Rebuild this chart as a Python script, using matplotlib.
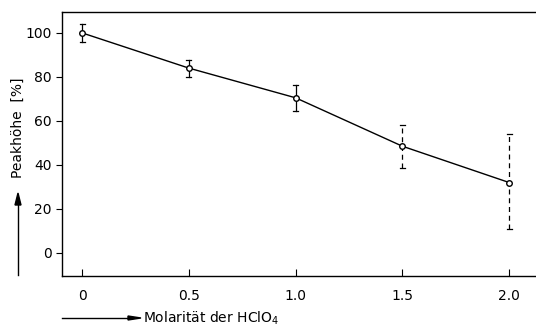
import matplotlib.pyplot as plt

molar = [0, 0.5, 1.0, 1.5, 2.0]
peak = [100, 84, 70.5, 48.5, 32]
err_hi = [104, 87.5, 76.5, 58, 54]
err_lo = [96, 80, 64.5, 38.5, 11]

plt.rcParams['font.family'] = ['DejaVu Sans']
fig = plt.figure(figsize=(5.36, 3.29), dpi=100)
ax = fig.add_axes([62 / 536, 1 - 276 / 329, 474 / 536, 264 / 329])

ax.plot(molar, peak, color='black', lw=1.0)
for x, y, hi, lo in zip(molar, peak, err_hi, err_lo):
    dashed = x >= 1.5
    ax.plot([x, x], [lo, hi], color='black', lw=0.9,
            ls=(0, (4, 3)) if dashed else '-')
    for v in (lo, hi):
        ax.plot([x - 0.012, x + 0.012], [v, v], color='black', lw=0.9)
ax.plot(molar, peak, 'o', mfc='white', mec='black', ms=4, mew=1.0)

ax.set_xlim(-0.094, 2.126)
ax.set_ylim(-10.5, 109.5)
ax.set_xticks(molar)
ax.set_xticklabels(['0', '0.5', '1.0', '1.5', '2.0'])
ax.set_yticks([0, 20, 40, 60, 80, 100])
ax.tick_params(axis='x', direction='in', length=5, labelsize=10, pad=9)
ax.tick_params(axis='y', direction='out', length=4, labelsize=10)
ax.spines['right'].set_visible(False)
for s in ('left', 'top', 'bottom'):
    ax.spines[s].set_linewidth(1.0)

fig.text(18 / 536, 1 - 128 / 329, 'Peakhöhe  [%]', rotation=90,
         ha='center', va='center', fontsize=10)
fig.add_artist(plt.Line2D([18 / 536, 18 / 536], [1 - 275 / 329, 1 - 200 / 329],
                          color='black', lw=1.0))
fig.patches.append(plt.Polygon([[15 / 536, 1 - 205 / 329], [21 / 536, 1 - 205 / 329],
                                [18 / 536, 1 - 193 / 329]], closed=True,
                               color='black', transform=fig.transFigure))
fig.add_artist(plt.Line2D([62 / 536, 132 / 536], [1 - 318 / 329, 1 - 318 / 329],
                          color='black', lw=1.0))
fig.patches.append(plt.Polygon([[128 / 536, 1 - 316 / 329], [128 / 536, 1 - 320 / 329],
                                [141 / 536, 1 - 318 / 329]], closed=True,
                               color='black', transform=fig.transFigure))
fig.text(143 / 536, 1 - 318 / 329, 'Molarität der HClO$_4$',
         ha='left', va='center', fontsize=10)

fig.savefig('out.png', dpi=100)
